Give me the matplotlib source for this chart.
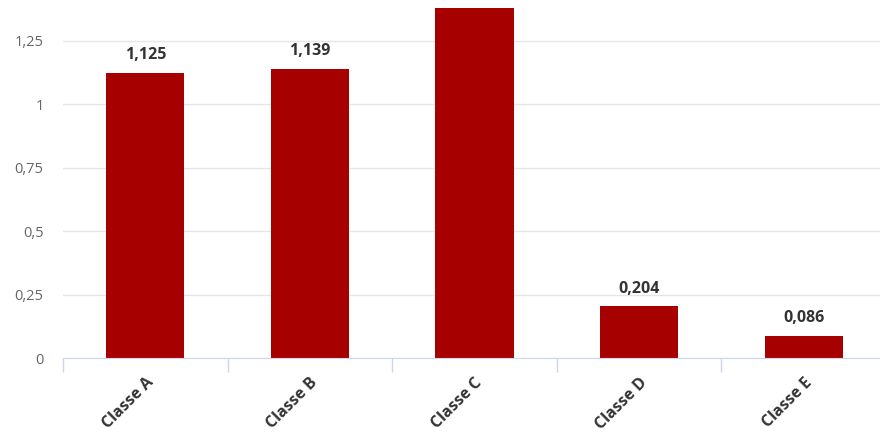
import matplotlib
matplotlib.use("Agg")
import matplotlib.pyplot as plt

plt.rcParams['font.family'] = ['Open Sans', 'DejaVu Sans']

classes = ['Classe A', 'Classe B', 'Classe C', 'Classe D', 'Classe E']
valores = [1.125, 1.139, 1.62, 0.204, 0.086]
rotulos = ['1,125', '1,139', '1,62', '0,204', '0,086']
yticks = [0, 0.25, 0.5, 0.75, 1, 1.25]
ytick_labels = ['0', '0,25', '0,5', '0,75', '1', '1,25']

fig = plt.figure(figsize=(8.8, 4.34), dpi=100)
ax = fig.add_axes([63 / 880, 1 - 358 / 434, 823 / 880, 350 / 434])

x = list(range(len(classes)))
ax.bar(x, valores, width=0.474, color='#a60000', zorder=3)

ax.set_xlim(-0.5, len(classes) - 0.5)
ax.set_ylim(0, 1.38)

# rótulos de valor (cortados se passarem do topo)
for xi, v, r in zip(x, valores, rotulos):
    t = ax.annotate(r, (xi, v), xytext=(0, 7), textcoords='offset points',
                    ha='center', va='bottom', fontsize=11.5, fontweight='bold',
                    color='#333333', zorder=4)
    t.set_clip_on(True)

ax.set_yticks(yticks)
ax.set_yticklabels(ytick_labels)
ax.tick_params(axis='y', length=0, pad=14, labelsize=10.5, labelcolor='#666666')
ax.grid(axis='y', color='#e6e6e6', linewidth=1, zorder=0)

ax.set_xticks(x)
ax.set_xticklabels(classes, rotation=45, ha='right', va='top',
                   rotation_mode='anchor', fontsize=11.5, fontweight='bold',
                   color='#333333')
ax.tick_params(axis='x', which='major', length=0, pad=12)
ax.set_xticks([i - 0.5 for i in range(len(classes) + 1)], minor=True)
ax.tick_params(axis='x', which='minor', length=10, width=1, color='#ccd6eb')

for s in ['top', 'right', 'left']:
    ax.spines[s].set_visible(False)
ax.spines['bottom'].set_color('#ccd6eb')
ax.spines['bottom'].set_zorder(5)

fig.savefig('out.png', dpi=100)
